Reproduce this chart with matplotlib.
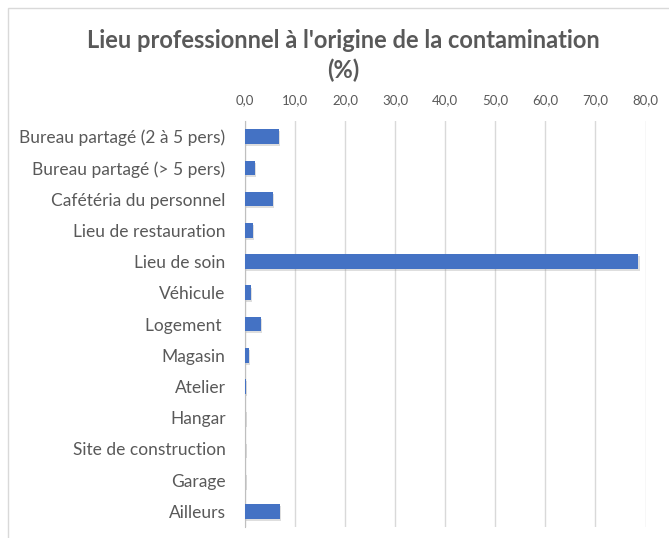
import matplotlib.pyplot as plt
import matplotlib.patheffects as pe
from matplotlib.patches import Rectangle
from matplotlib.ticker import FuncFormatter

# lieux de contamination (%)
lieux = ['Bureau partagé (2 à 5 pers)', 'Bureau partagé (> 5 pers)', 'Cafétéria du personnel',
         'Lieu de restauration', 'Lieu de soin', 'Véhicule', 'Logement ', 'Magasin', 'Atelier',
         'Hangar', 'Site de construction', 'Garage', 'Ailleurs']
pourcent = [6.7, 1.9, 5.6, 1.6, 78.6, 1.1, 3.2, 0.7, 0.2, 0.05, 0.05, 0.05, 7.0]
graduations = [0, 10, 20, 30, 40, 50, 60, 70, 80]

plt.rcParams['font.family'] = ['Lato', 'DejaVu Sans']
gris = '#595959'

fig = plt.figure(figsize=(6.69, 5.38), dpi=100)
# cadre du graphique
fig.patches.append(Rectangle((8/669, -0.05), 1.1, 1 - 8/538 + 0.05, transform=fig.transFigure,
                             fill=False, edgecolor='#D9D9D9', linewidth=1))
ax = fig.add_axes([245/669, 1 - 527/538, 400.5/669, 406/538])

bars = ax.barh(range(len(lieux)), pourcent, height=0.47, color='#4472C4', zorder=3)
for b in bars:
    b.set_path_effects([pe.SimplePatchShadow(offset=(1, -1.5), shadow_rgbFace='#7f7f7f', alpha=0.25),
                        pe.Normal()])

ax.set_ylim(len(lieux) - 0.5, -0.5)
ax.set_xlim(0, 80)
ax.set_yticks(range(len(lieux)))
ax.set_yticklabels(lieux, fontsize=12.5, color=gris)
ax.set_xticks(graduations)
ax.xaxis.set_major_formatter(FuncFormatter(lambda v, p: f'{v:.1f}'.replace('.', ',')))
ax.xaxis.tick_top()
ax.tick_params(axis='x', length=0, pad=11, labelsize=9.5, labelcolor=gris)
ax.tick_params(axis='y', length=0, pad=14)
ax.grid(axis='x', color='#D9D9D9', linewidth=1, zorder=0)
for s in ['top', 'right', 'bottom']:
    ax.spines[s].set_visible(False)
ax.spines['left'].set_color('#BFBFBF')

fig.text(343/669, 1 - 40/538, "Lieu professionnel à l'origine de la contamination",
         ha='center', va='center', fontsize=17, fontweight='bold', color=gris)
fig.text(343/669, 1 - 70/538, "(%)",
         ha='center', va='center', fontsize=17, fontweight='bold', color=gris)

fig.savefig('out.png', dpi=100)
